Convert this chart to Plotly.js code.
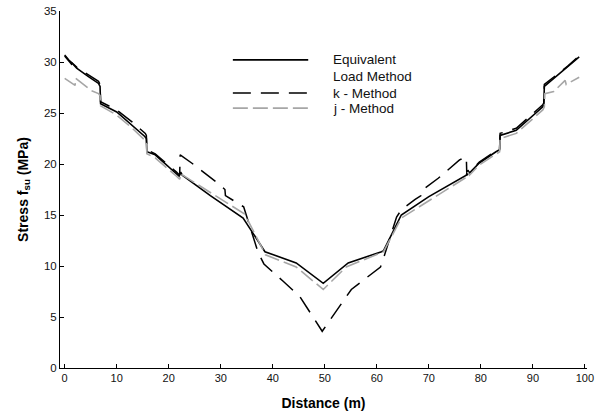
<!DOCTYPE html>
<html>
<head>
<meta charset="utf-8">
<script src="https://cdn.plot.ly/plotly-3.0.1.min.js"></script>
<style>
  html, body { margin: 0; padding: 0; background: #fff; }
  #chart { width: 595px; height: 420px; }
</style>
</head>
<body>
<div id="chart"></div>
<script>
// Equivalent Load Method (solid black)
const eqX = [0, 0.8, 1.3, 1.4, 2.3, 4.5, 6.5, 6.8, 6.9, 10.0, 13.0, 15.4, 15.7, 15.8, 17.4, 21.5, 22.0, 22.3, 22.6, 28.0, 34.3, 38.5, 44.5, 49.7, 54.5, 60.9, 61.3, 64.7, 70.0, 77.2, 77.5, 77.8, 79.7, 82.9, 83.6, 83.7, 86.8, 91.9, 92.1, 92.2, 96.7, 98.9];
const eqY = [30.6, 30.1, 29.8, 29.9, 29.4, 28.6, 27.9, 27.6, 25.9, 25.1, 23.8, 22.7, 22.5, 21.2, 20.9, 19.1, 18.8, 19.2, 18.9, 16.9, 14.7, 11.4, 10.3, 8.3, 10.3, 11.4, 11.5, 15.0, 16.8, 18.9, 19.4, 19.1, 20.1, 21.2, 21.4, 22.8, 23.3, 25.6, 25.9, 27.6, 29.5, 30.5];

// k - Method (dashed black)
const kX = [0, 0.8, 2.3, 6.5, 6.8, 6.9, 10.0, 13.0, 15.5, 15.7, 15.8, 17.4, 21.5, 22.1, 22.2, 24.4, 29.5, 30.8, 30.9, 33.3, 34.4, 37.2, 38.3, 42.0, 45.2, 49.5, 51.9, 55.1, 60.7, 61.0, 63.8, 64.7, 67.3, 68.5, 68.6, 71.8, 75.9, 77.2, 77.3, 79.7, 82.9, 83.6, 83.7, 86.8, 91.9, 92.1, 92.2, 96.7, 98.9];
const kY = [30.7, 30.2, 29.5, 28.1, 27.8, 26.1, 25.3, 24.1, 23.0, 22.8, 21.4, 21.0, 19.2, 18.9, 20.9, 20.1, 18.1, 17.5, 16.9, 16.1, 15.8, 11.3, 10.2, 8.5, 7.0, 3.6, 5.4, 7.7, 9.9, 10.3, 14.8, 15.5, 16.5, 16.9, 17.4, 18.6, 20.4, 20.7, 18.9, 20.2, 21.3, 21.5, 23.0, 23.5, 25.8, 26.0, 27.8, 29.6, 30.6];

// j - Method (dashed grey)
const jX = [0, 1.6, 2.0, 2.1, 5.1, 6.5, 6.8, 6.9, 10.0, 13.0, 15.4, 15.7, 15.8, 17.4, 21.5, 22.1, 22.4, 22.7, 34.6, 38.6, 44.5, 49.7, 54.1, 60.5, 61.3, 64.7, 77.2, 77.5, 77.8, 79.7, 82.9, 83.6, 83.7, 86.8, 91.9, 92.2, 92.3, 94.0, 96.2, 96.4, 98.9];
const jY = [28.4, 27.9, 27.7, 28.4, 27.2, 26.9, 26.7, 25.7, 24.8, 23.5, 22.4, 22.2, 21.0, 20.6, 18.8, 18.5, 19.1, 18.9, 15.1, 11.1, 9.9, 7.7, 9.9, 11.2, 11.4, 14.7, 18.7, 19.2, 18.9, 19.9, 21.0, 21.2, 22.5, 23.0, 25.3, 25.6, 26.9, 27.1, 28.2, 27.8, 28.5];

const xTicks = [0, 10, 20, 30, 40, 50, 60, 70, 80, 90, 100];
const yTicks = [0, 5, 10, 15, 20, 25, 30, 35];
const seriesNames = ['Equivalent<br>Load Method', 'k - Method', 'j - Method'];

const FONT = 'Liberation Sans, Arial, sans-serif';
const styles = [
  {color: '#000000', width: 1.6, dash: 'solid'},
  {color: '#000000', width: 1.5, dash: '18px,10px'},
  {color: '#a6a6a6', width: 1.6, dash: '15px,5px'}
];

const traces = [
  {x: eqX, y: eqY, type: 'scatter', mode: 'lines', name: seriesNames[0], line: styles[0]},
  {x: kX, y: kY, type: 'scatter', mode: 'lines', name: seriesNames[1], line: styles[1]},
  {x: jX, y: jY, type: 'scatter', mode: 'lines', name: seriesNames[2], line: styles[2]}
];

// Custom legend (sample lines + labels) placed in paper coordinates
const legRows = [0.863, 0.770, 0.728];
const shapes = styles.map((s, i) => ({
  type: 'line', xref: 'paper', yref: 'paper',
  x0: 0.328, x1: 0.471, y0: legRows[i], y1: legRows[i],
  line: {color: s.color, width: s.width, dash: s.dash}
}));
const legendText = [
  {text: 'Equivalent', y: 0.863},
  {text: 'Load Method', y: 0.817},
  {text: 'k - Method', y: 0.770},
  {text: 'j - Method', y: 0.728}
];
const annotations = legendText.map(t => ({
  xref: 'paper', yref: 'paper', x: 0.514, y: t.y, xanchor: 'left', yanchor: 'middle',
  text: t.text, showarrow: false, font: {family: FONT, size: 13.5, color: '#111'}
}));

const layout = {
  width: 595, height: 420,
  margin: {l: 60, r: 8, t: 11, b: 52},
  paper_bgcolor: '#fff', plot_bgcolor: '#fff',
  showlegend: false,
  font: {family: FONT, size: 11, color: '#111'},
  xaxis: {
    range: [-0.9, 100.4], tickvals: xTicks, ticks: 'inside', ticklen: 4, tickwidth: 1, tickcolor: '#000',
    showline: true, linecolor: '#000', linewidth: 1, showgrid: false, zeroline: false,
    tickfont: {family: FONT, size: 11, color: '#111'},
    title: {text: '<b>Distance (m)</b>', font: {family: FONT, size: 14, color: '#000'}, standoff: 14}
  },
  yaxis: {
    range: [0, 35], tickvals: yTicks, ticks: 'inside', ticklen: 4, tickwidth: 1, tickcolor: '#000',
    showline: true, linecolor: '#000', linewidth: 1, showgrid: false, zeroline: false,
    tickfont: {family: FONT, size: 11.5, color: '#111'},
    title: {text: '<b>Stress f<sub>su</sub> (MPa)</b>', font: {family: FONT, size: 14, color: '#000'}, standoff: 12}
  },
  shapes: shapes,
  annotations: annotations
};

Plotly.newPlot('chart', traces, layout, {displayModeBar: false, staticPlot: true});
</script>
</body>
</html>
